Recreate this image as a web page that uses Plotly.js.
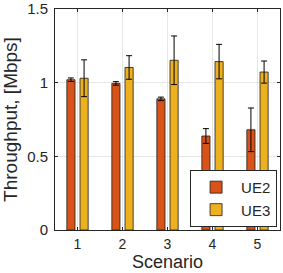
<!DOCTYPE html>
<html><head><meta charset="utf-8">
<script src="https://cdn.plot.ly/plotly-3.0.1.min.js"></script>
<style>html,body{margin:0;padding:0;background:#fff}#chart{width:283px;height:273px}</style>
</head><body><div id="chart"></div>
<script>
const scenarios = [1, 2, 3, 4, 5];
const ue2 = [1.02, 0.995, 0.89, 0.638, 0.68];
const ue2Err = [0.012, 0.012, 0.012, 0.05, 0.148];
const ue3 = [1.03, 1.103, 1.152, 1.143, 1.072];
const ue3Err = [0.125, 0.08, 0.165, 0.117, 0.075];
const yTicks = [0, 0.5, 1, 1.5];
const yTickText = ['0', '0.5', '1', '1.5'];

const font = {family: 'Liberation Sans, Arial, sans-serif', color: '#262626'};
function trace(name, y, err, color) {
  return {
    type: 'bar', name: name, x: scenarios, y: y,
    marker: {color: color, line: {color: 'rgba(30,30,30,0.8)', width: 1}},
    error_y: {type: 'data', array: err, visible: true, color: '#000', thickness: 1, width: 3}
  };
}
const data = [trace('UE2', ue2, ue2Err, '#D95319'), trace('UE3', ue3, ue3Err, '#EDB120')];
const layout = {
  width: 283, height: 273,
  margin: {l: 55, r: 3, t: 9, b: 43},
  paper_bgcolor: '#fff', plot_bgcolor: '#fff',
  barmode: 'group', bargap: 0.415, bargroupgap: 0.38,
  font: Object.assign({size: 15}, font),
  xaxis: {
    range: [0.5, 5.5], tickvals: scenarios, ticktext: scenarios.map(String),
    showgrid: true, gridcolor: '#e6e6e6', showline: true, linecolor: '#262626', mirror: 'ticks',
    ticks: 'inside', ticklen: 3, tickcolor: '#262626', zeroline: false,
    ticklabelstandoff: 1,
    tickfont: Object.assign({size: 14}, font), automargin: false,
    title: {text: 'Scenario', font: Object.assign({size: 18}, font), standoff: 1}
  },
  yaxis: {
    range: [0, 1.5], tickvals: yTicks, ticktext: yTickText,
    showgrid: true, gridcolor: '#e6e6e6', showline: true, linecolor: '#262626', mirror: 'ticks',
    ticks: 'inside', ticklen: 3, tickcolor: '#262626', zeroline: false,
    ticklabelstandoff: 3,
    tickfont: Object.assign({size: 15}, font), automargin: false,
    title: {text: 'Throughput, [Mbps]', font: Object.assign({size: 19}, font), standoff: 5}
  },
  legend: {
    x: 0.987, xanchor: 'right', y: 0.014, yanchor: 'bottom',
    bgcolor: '#fff', bordercolor: '#262626', borderwidth: 1,
    font: Object.assign({size: 15}, font), itemwidth: 40, tracegroupgap: 0
  }
};
Plotly.newPlot('chart', data, layout, {staticPlot: true, displayModeBar: false});
</script></body></html>
